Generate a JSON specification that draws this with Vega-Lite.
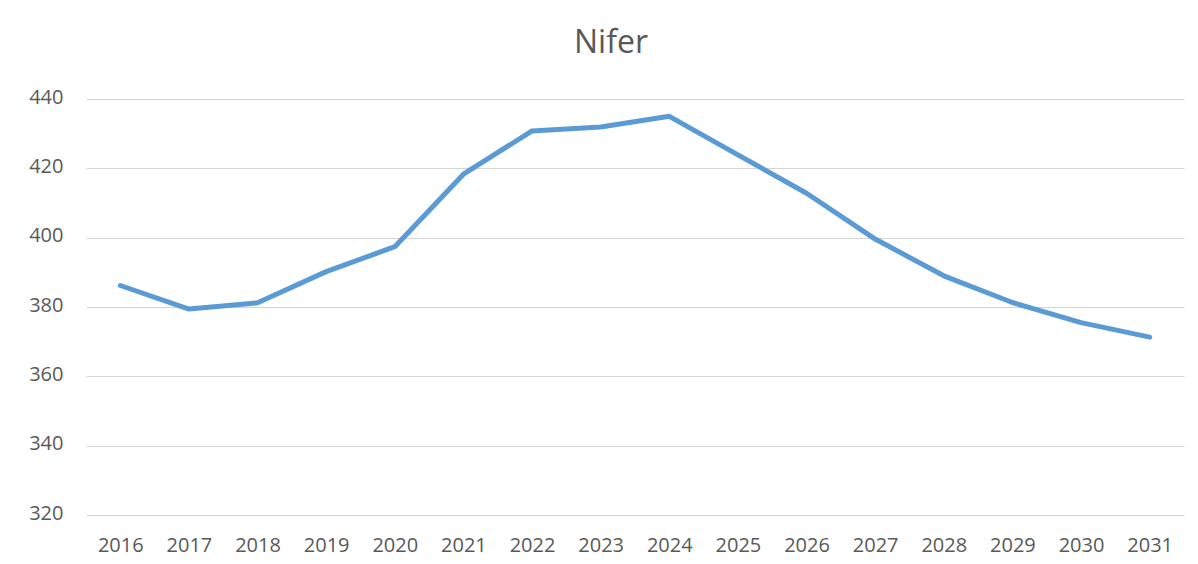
{
  "$schema": "https://vega.github.io/schema/vega-lite/v6.json",
  "autosize": {"type": "none"},
  "width": 1098,
  "height": 416,
  "padding": {"left": 86, "top": 99, "right": 14, "bottom": 49},
  "background": "white",
  "title": {
    "text": "Nifer",
    "font": "Open Sans",
    "fontSize": 32,
    "fontWeight": "normal",
    "color": "#595959",
    "anchor": "middle",
    "baseline": "alphabetic",
    "offset": 2,
    "dx": -24
  },
  "data": {
    "values": [
      {"year": "2016", "value": 386.2},
      {"year": "2017", "value": 379.4},
      {"year": "2018", "value": 381.2},
      {"year": "2019", "value": 390.2},
      {"year": "2020", "value": 397.4},
      {"year": "2021", "value": 418.3},
      {"year": "2022", "value": 430.8},
      {"year": "2023", "value": 431.9},
      {"year": "2024", "value": 435.0},
      {"year": "2025", "value": 423.9},
      {"year": "2026", "value": 412.8},
      {"year": "2027", "value": 399.6},
      {"year": "2028", "value": 389.0},
      {"year": "2029", "value": 381.3},
      {"year": "2030", "value": 375.5},
      {"year": "2031", "value": 371.3}
    ]
  },
  "mark": {"type": "line", "color": "#5B9BD5", "strokeWidth": 5, "strokeCap": "round", "strokeJoin": "round"},
  "encoding": {
    "x": {
      "field": "year",
      "type": "ordinal",
      "scale": {"type": "point", "padding": 0.5},
      "axis": {
        "title": null,
        "labelAngle": 0,
        "ticks": false,
        "domain": false,
        "grid": false,
        "labelFont": "Open Sans",
        "labelFontSize": 20,
        "labelColor": "#595959",
        "labelBaseline": "top",
        "labelPadding": 20
      }
    },
    "y": {
      "field": "value",
      "type": "quantitative",
      "scale": {"domain": [320, 440], "nice": false, "zero": false},
      "axis": {
        "title": null,
        "values": [320, 340, 360, 380, 400, 420, 440],
        "ticks": false,
        "domain": false,
        "grid": true,
        "gridColor": "#D4D4D4",
        "gridWidth": 1,
        "labelFont": "Open Sans",
        "labelFontSize": 20,
        "labelColor": "#595959",
        "labelPadding": 23,
        "labelOffset": -2
      }
    }
  },
  "config": {"view": {"stroke": null}}
}
